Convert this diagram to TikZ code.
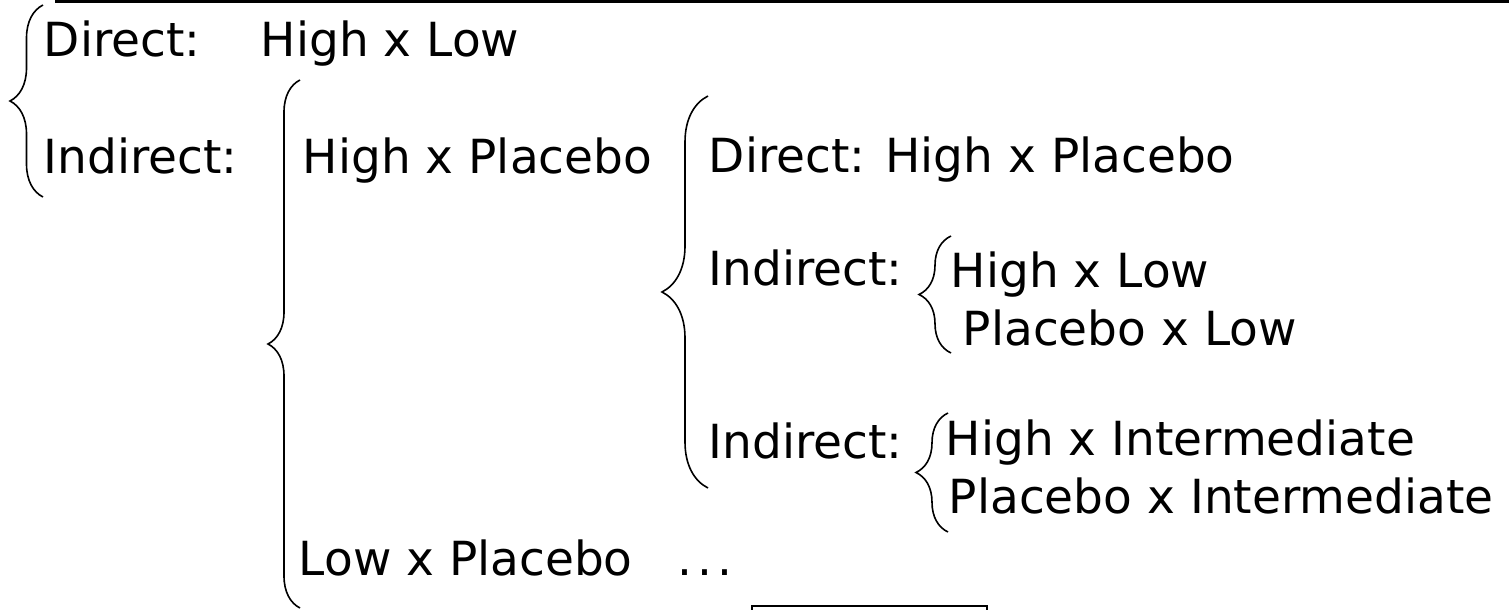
\documentclass[tikz,border=0pt]{standalone}
\usepackage{fontspec}
\setmainfont{DejaVu Sans}
\usetikzlibrary{decorations.pathreplacing}
\begin{document}
\begin{tikzpicture}[x=0.5pt,y=-0.5pt,
  txt/.style={anchor=base west, inner sep=0pt, font=\fontsize{23.5}{28}\selectfont},
  brc/.style={decorate, decoration={brace, amplitude=#1}, line width=0.8pt},
  rule/.style={line width=1.25pt},
  boxline/.style={line width=1pt}
]
\useasboundingbox (0,0) rectangle (1509,610);
\clip (0,0) rectangle (1509,610);

% top rule
\coordinate (ruleL) at (55,1.3);
\coordinate (ruleR) at (1509,1.3);
\draw[rule] (ruleL) -- (ruleR);

% level 1
\node[txt] (d1) at (43.5,57) {Direct:};
\node[txt] (d1v) at (260.5,57) {High x Low};
\node[txt] (i1) at (43.5,173) {Indirect:};
\coordinate (b1t) at (43,5);
\coordinate (b1b) at (43,197);
\draw[brc=16.5pt] (b1b) -- (b1t);

% level 2
\node[txt] (hp) at (302.5,173) {High x Placebo};
\node[txt] (lp) at (298.5,575) {Low x Placebo};
\node[txt] (dots) at (677,575) {{.}\kern2.5pt{.}\kern2.5pt{.}};
\coordinate (b2t) at (300,80);
\coordinate (b2b) at (300,608);
\draw[brc=16pt] (b2b) -- (b2t);

% level 3
\node[txt] (d3) at (708.5,172) {Direct: High x Placebo};
\node[txt] (i3a) at (708.5,285) {Indirect:};
\node[txt] (i3b) at (708.5,458) {Indirect:};
\coordinate (b3t) at (708,96);
\coordinate (b3b) at (708,488);
\draw[brc=23pt] (b3b) -- (b3t);

% level 4a
\node[txt] (hl) at (950.5,287) {High x Low};
\node[txt] (pl) at (962.5,345) {Placebo x Low};
\coordinate (b4t) at (951,236);
\coordinate (b4b) at (951,353);
\draw[brc=16pt] (b4b) -- (b4t);

% level 4b
\node[txt] (hi) at (945.5,455) {High x Intermediate};
\node[txt] (pi) at (948.5,513) {Placebo x Intermediate};
\coordinate (b5t) at (948,413);
\coordinate (b5b) at (948,532);
\draw[brc=16pt] (b5b) -- (b5t);

% cut-off box at the bottom
\coordinate (boxA) at (752,606);
\coordinate (boxB) at (987,650);
\draw[boxline] (boxA) rectangle (boxB);
\end{tikzpicture}
\end{document}
